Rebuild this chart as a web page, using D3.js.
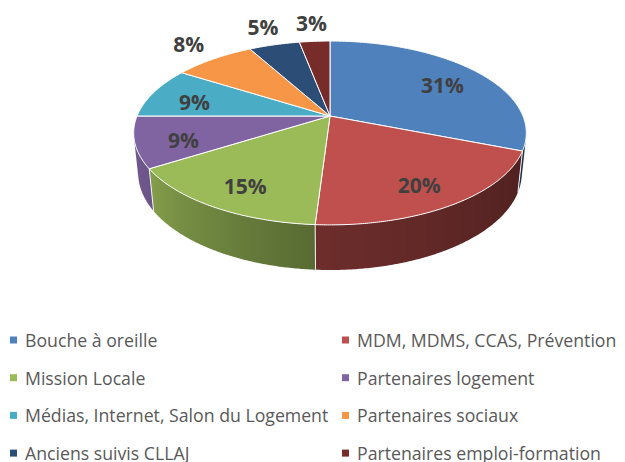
<!DOCTYPE html>
<html>
<head>
<meta charset="utf-8">
<script src="https://cdn.jsdelivr.net/npm/d3@7"></script>
<style>
  body { margin: 0; background: #fff; }
  svg { display: block; }
</style>
</head>
<body>
<svg id="chart"></svg>
<script>
// données
var categories = ["Bouche à oreille", "MDM, MDMS, CCAS, Prévention", "Mission Locale", "Partenaires logement",
    "Médias, Internet, Salon du Logement", "Partenaires sociaux", "Anciens suivis CLLAJ", "Partenaires emploi-formation"];
var values = [31, 20, 15, 9, 9, 8, 5, 3];
var colors = ["#4f81bd", "#c0504d", "#9bbb59", "#8064a2", "#4bacc6", "#f79646", "#2c4d75", "#772c2a"];

var width = 625, height = 462;
var svg = d3.select("#chart").attr("width", width).attr("height", height);
var defs = svg.append("defs");

// camera for the 3d pie (unit radius)
var cx = 330, cy = 116;
var tilt = 27.4 * Math.PI / 180;
var dist = 4.81, focal = 928, thick = 0.235;

function project(a, r, y) {
    var X = r * Math.sin(a), Z = r * Math.cos(a);
    var yc = y * Math.cos(tilt) + Z * Math.sin(tilt),
        zc = dist + Z * Math.cos(tilt) - y * Math.sin(tilt);
    return [cx + focal * X / zc, cy - focal * yc / zc];
}

// outer wall faces the camera?
function facing(a) {
    var X = Math.sin(a), Z = Math.cos(a), y = -thick / 2;
    var yc = y * Math.cos(tilt) + Z * Math.sin(tilt),
        zc = dist + Z * Math.cos(tilt) - y * Math.sin(tilt);
    var n = [Math.sin(a), Math.cos(a) * Math.sin(tilt), Math.cos(a) * Math.cos(tilt)];
    return n[0] * X + n[1] * yc + n[2] * zc < 0;
}

var arcs = d3.pie().sort(null).value(function(d) { return d; })(values);
var line = d3.line();
var step = Math.PI / 360;

// darkening of the outer wall by angle (degrees)
var shade = d3.scaleLinear().domain([90, 184, 240, 280]).range([0.36, 0.57, 0.86, 0.9]).clamp(true);

var walls = [];
arcs.forEach(function(d, i) {
    var seen = [];
    for (var a = d.startAngle; a <= d.endAngle + 1e-9; a += step) {
        if (facing(a)) seen.push(a);
    }
    if (seen.length < 2) return;
    if (facing(d.endAngle) && seen[seen.length - 1] < d.endAngle) seen.push(d.endAngle);
    var top = seen.map(function(a) { return project(a, 1, 0); });
    var bot = seen.map(function(a) { return project(a, 1, -thick); }).reverse();
    var x1 = top[0][0], x2 = top[top.length - 1][0];
    var c = d3.rgb(colors[i]);
    var grad = defs.append("linearGradient")
        .attr("id", "wall" + i)
        .attr("gradientUnits", "userSpaceOnUse")
        .attr("x1", x1).attr("x2", x2).attr("y1", 0).attr("y2", 0);
    seen.forEach(function(a, j) {
        var k = shade(a * 180 / Math.PI);
        grad.append("stop")
            .attr("offset", Math.abs(x2 - x1) < 1e-6 ? 0 : (top[j][0] - x1) / (x2 - x1))
            .attr("stop-color", d3.rgb(c.r * k, c.g * k, c.b * k).toString());
    });
    walls.push({ i: i, pts: top.concat(bot), a0: seen[0] });
});

svg.append("g").selectAll("path")
    .data(walls).enter().append("path")
    .attr("d", function(d) { return line(d.pts) + "Z"; })
    .attr("fill", function(d) { return "url(#wall" + d.i + ")"; });

// white seams on the wall
svg.append("g").selectAll("line")
    .data(arcs.filter(function(d) { return facing(d.startAngle); }))
    .enter().append("line")
    .attr("x1", function(d) { return project(d.startAngle, 1, 0)[0]; })
    .attr("y1", function(d) { return project(d.startAngle, 1, 0)[1]; })
    .attr("x2", function(d) { return project(d.startAngle, 1, -thick)[0]; })
    .attr("y2", function(d) { return project(d.startAngle, 1, -thick)[1]; })
    .attr("stroke", "#f2f2f2")
    .attr("stroke-width", 1);

// top faces
svg.append("g").selectAll("path")
    .data(arcs).enter().append("path")
    .attr("d", function(d) {
        var pts = [project(0, 0, 0)];
        var n = Math.max(2, Math.ceil((d.endAngle - d.startAngle) / step));
        for (var j = 0; j <= n; j++) {
            pts.push(project(d.startAngle + (d.endAngle - d.startAngle) * j / n, 1, 0));
        }
        return line(pts) + "Z";
    })
    .attr("fill", function(d, i) { return colors[i]; })
    .attr("stroke", "#ffffff")
    .attr("stroke-width", 1)
    .attr("stroke-linejoin", "round");

// percentage labels
svg.append("g").selectAll("text")
    .data(arcs).enter().append("text")
    .each(function(d, i) {
        var m = (d.startAngle + d.endAngle) / 2;
        var p = i < 5 ? project(m, 0.76, 0) : project(m, 1.25, 0);
        d3.select(this).attr("x", p[0]).attr("y", i < 5 ? p[1] + 4 : p[1] - 3);
    })
    .attr("text-anchor", "middle")
    .attr("dominant-baseline", "central")
    .attr("font-family", "Open Sans, sans-serif")
    .attr("font-weight", "bold")
    .attr("font-size", "21px")
    .attr("fill", "#404040")
    .text(function(d) { return d.data + "%"; });

// legend
var legend = svg.append("g").selectAll("g")
    .data(categories).enter().append("g")
    .attr("transform", function(d, i) {
        return "translate(" + (i % 2 ? 342 : 10) + "," + (340 + Math.floor(i / 2) * 37.7) + ")";
    });

legend.append("rect")
    .attr("x", 0).attr("y", -3.5)
    .attr("width", 7).attr("height", 7)
    .attr("fill", function(d, i) { return colors[i]; });

legend.append("text")
    .attr("x", 15)
    .attr("y", 0)
    .attr("dominant-baseline", "central")
    .attr("font-family", "Open Sans, sans-serif")
    .attr("font-size", "17.7px")
    .attr("fill", "#595959")
    .text(function(d) { return d; });
</script>
</body>
</html>
